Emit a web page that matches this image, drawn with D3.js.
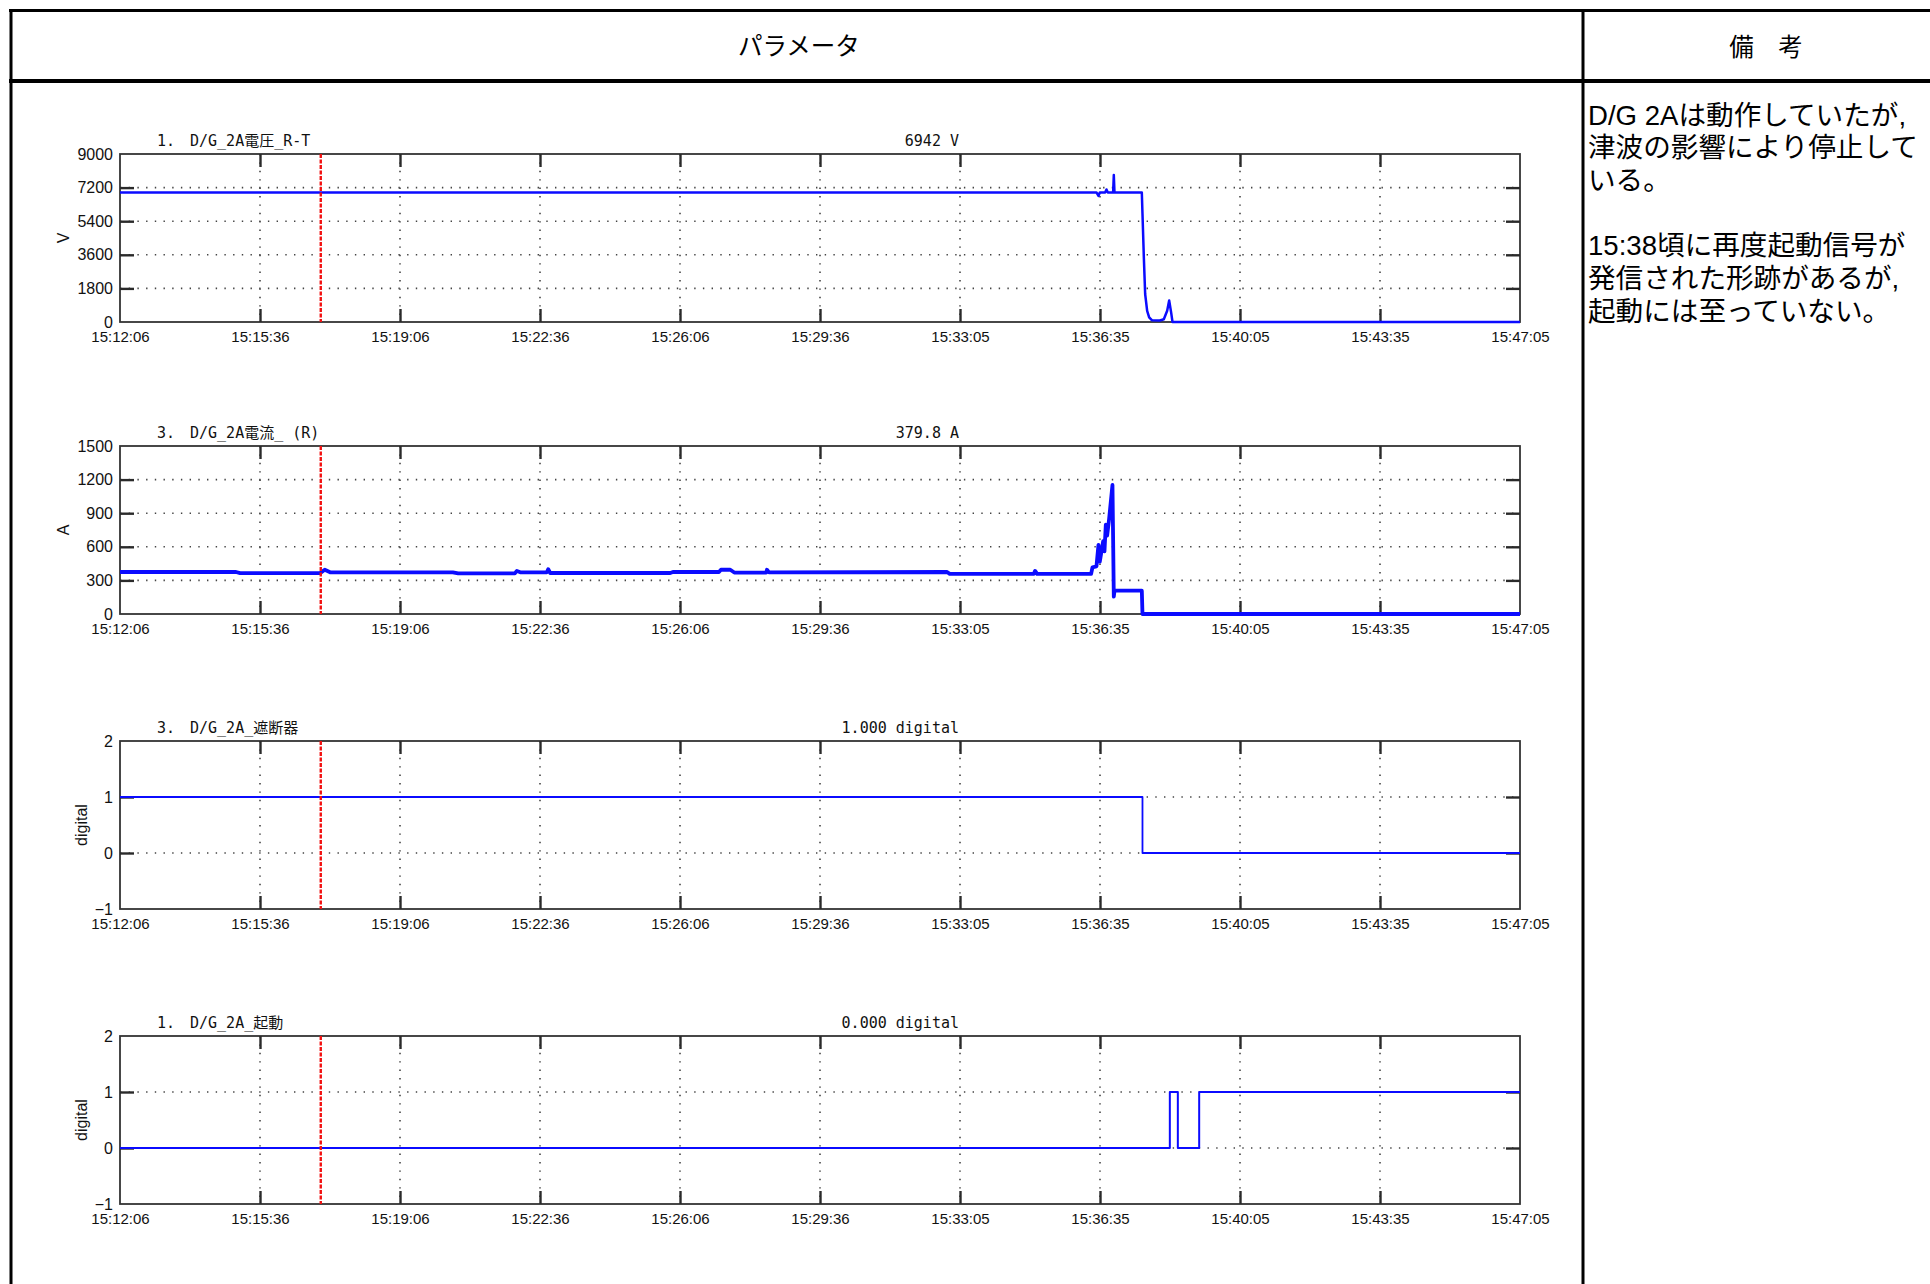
<!DOCTYPE html>
<html><head><meta charset="utf-8">
<script src="https://cdn.jsdelivr.net/npm/d3@7"></script>
<style>html,body{margin:0;padding:0;background:#fff;}svg{display:block;}</style>
</head><body>
<svg id="chart" width="1930" height="1284"></svg>
<script>
// ---------------- data ----------------
const timeStart = "15:12:06";
const timeEnd = "15:47:05";
const xTickLabels = ["15:12:06","15:15:36","15:19:06","15:22:36","15:26:06","15:29:36","15:33:05","15:36:35","15:40:05","15:43:35","15:47:05"];
const markerTime = "15:17:07";

const voltageTicks = [0, 1800, 3600, 5400, 7200, 9000];
const currentTicks = [0, 300, 600, 900, 1200, 1500];
const digitalTicks = [-1, 0, 1, 2];

const voltageTimes = ["15:12:06","15:36:30","15:36:33","15:36:35","15:36:43","15:36:45","15:36:47","15:36:55","15:36:56","15:36:57","15:37:38","15:37:39","15:37:41","15:37:43","15:37:46","15:37:49","15:37:53","15:38:05","15:38:11","15:38:16","15:38:19","15:38:22","15:38:24","15:47:05"];
const voltageValues = [6942,6942,6750,6942,6942,7100,6942,6942,7877,6942,6942,5800,3500,1500,600,250,100,80,150,600,1150,500,0,0];

const currentTimes = ["15:12:06","15:15:00","15:15:06","15:17:06","15:17:13","15:17:21","15:20:25","15:20:33","15:21:58","15:22:01","15:22:06","15:22:46","15:22:48","15:22:51","15:25:51","15:25:55","15:27:04","15:27:07","15:27:21","15:27:27","15:28:15","15:28:16","15:28:19","15:32:46","15:32:50","15:34:56","15:34:58","15:35:01","15:36:22","15:36:24","15:36:30","15:36:33","15:36:35","15:36:40","15:36:42","15:36:44","15:36:46","15:36:49","15:36:54","15:36:56","15:36:57","15:37:38","15:37:39","15:47:05"];
const currentValues = [375,375,365,365,395,372,372,362,362,385,372,372,400,366,366,375,375,395,395,370,370,395,372,375,358,358,385,358,358,417,425,616,467,650,560,797,700,850,1152,155,208,208,0,0];

const breakerTimes = ["15:12:06","15:37:39","15:47:05"];
const breakerValues = [1, 0, 0];

const startTimes = ["15:12:06","15:38:20","15:38:32","15:39:04","15:47:05"];
const startValues = [0, 1, 0, 1, 1];

const panelIndexes = ["1.", "3.", "3.", "1."];
const panelNames = ["D/G_2A電圧_R-T", "D/G_2A電流_ (R)", "D/G_2A_遮断器", "D/G_2A_起動"];
const panelReadouts = ["6942 V", "379.8 A", "1.000 digital", "0.000 digital"];
const panelUnits = ["V", "A", "digital", "digital"];

const headerLeft = "パラメータ";
const headerRight = "備\u3000考";
const remarkLines = ["D/G 2Aは動作していたが,", "津波の影響により停止して", "いる。", "", "15:38頃に再度起動信号が", "発信された形跡があるが,", "起動には至っていない。"];

// ---------------- layout ----------------
const parse = d3.timeParse("%H:%M:%S");
const svg = d3.select("#chart");
const plotLeft = 120, plotRight = 1520;
const panels = [
  {top: 154, bottom: 322, ticks: voltageTicks, times: voltageTimes, values: voltageValues, width: 2.5, step: false, ylabX: 63},
  {top: 446, bottom: 614, ticks: currentTicks, times: currentTimes, values: currentValues, width: 3.8, step: false, ylabX: 63},
  {top: 741, bottom: 909, ticks: digitalTicks, times: breakerTimes, values: breakerValues, width: 1.8, step: true, ylabX: 81},
  {top: 1036, bottom: 1204, ticks: digitalTicks, times: startTimes, values: startValues, width: 2, step: true, ylabX: 81}
];

const t0 = parse(timeStart), t1 = parse(timeEnd);
const x = d3.scaleTime().domain([t0, t1]).range([plotLeft, plotRight]);
const xTickVals = d3.range(xTickLabels.length).map(i => new Date(+t0 + i * (t1 - t0) / (xTickLabels.length - 1)));
const xFmt = (d, i) => xTickLabels[i];

const monoFont = "'DejaVu Sans Mono', 'Noto Sans CJK JP', monospace";
const sansFont = "'Liberation Sans', Arial, 'Noto Sans CJK JP', sans-serif";
const blue = "#0b0bff";
const tickCol = "#2a2a2a";

// ---------------- table frame ----------------
const frame = svg.append("g");
frame.append("line").attr("x1", 9).attr("x2", 1930).attr("y1", 10.5).attr("y2", 10.5).attr("stroke", "#000").attr("stroke-width", 3);
frame.append("line").attr("x1", 11).attr("x2", 11).attr("y1", 9).attr("y2", 1284).attr("stroke", "#000").attr("stroke-width", 3);
frame.append("line").attr("x1", 9).attr("x2", 1930).attr("y1", 81).attr("y2", 81).attr("stroke", "#000").attr("stroke-width", 4);
frame.append("line").attr("x1", 1583).attr("x2", 1583).attr("y1", 9).attr("y2", 1284).attr("stroke", "#000").attr("stroke-width", 3);

frame.append("text").attr("x", 799).attr("y", 46).attr("dy", "0.35em").attr("text-anchor", "middle")
  .attr("font-family", "'Noto Sans CJK JP', sans-serif").attr("font-size", 24.5).text(headerLeft);
frame.append("text").attr("x", 1766).attr("y", 47.5).attr("dy", "0.35em").attr("text-anchor", "middle")
  .attr("font-family", "'Noto Sans CJK JP', sans-serif").attr("font-size", 24.5).text(headerRight);

remarkLines.forEach((ln, i) => {
  frame.append("text").attr("x", 1588).attr("y", 124.5 + i * 32.7)
    .attr("font-family", "'Liberation Sans', 'Noto Sans CJK JP', sans-serif").attr("font-size", 27.6).text(ln);
});

// ---------------- panels ----------------
panels.forEach((p, k) => {
  const g = svg.append("g");
  const y = d3.scaleLinear().domain([d3.min(p.ticks), d3.max(p.ticks)]).range([p.bottom, p.top]);

  // grid
  const grid = g.append("g");
  grid.selectAll("line.gx").data(xTickVals.slice(1, -1)).join("line")
    .attr("x1", d => x(d)).attr("x2", d => x(d)).attr("y1", p.top).attr("y2", p.bottom)
    .attr("stroke", "#444").attr("stroke-width", 1.6).attr("stroke-dasharray", "1.4,7");
  grid.selectAll("line.gy").data(p.ticks.slice(1, -1)).join("line")
    .attr("x1", plotLeft).attr("x2", plotRight).attr("y1", d => y(d)).attr("y2", d => y(d))
    .attr("stroke", "#444").attr("stroke-width", 1.6).attr("stroke-dasharray", "1.4,7.3");

  // frame
  g.append("rect").attr("x", plotLeft).attr("y", p.top).attr("width", plotRight - plotLeft).attr("height", p.bottom - p.top)
    .attr("fill", "none").attr("stroke", "#333").attr("stroke-width", 1.8);

  // axes
  const axB = g.append("g").attr("transform", `translate(0,${p.bottom})`)
    .call(d3.axisBottom(x).tickValues(xTickVals).tickFormat(xFmt).tickSizeInner(-13).tickSizeOuter(0).tickPadding(9));
  const axT = g.append("g").attr("transform", `translate(0,${p.top})`)
    .call(d3.axisTop(x).tickValues(xTickVals).tickFormat("").tickSizeInner(-13).tickSizeOuter(0));
  const axL = g.append("g").attr("transform", `translate(${plotLeft},0)`)
    .call(d3.axisLeft(y).tickValues(p.ticks).tickFormat(d => d < 0 ? "\u2212" + Math.abs(d) : d).tickSizeInner(-14).tickSizeOuter(0).tickPadding(7));
  const axR = g.append("g").attr("transform", `translate(${plotRight},0)`)
    .call(d3.axisRight(y).tickValues(p.ticks).tickFormat("").tickSizeInner(-14).tickSizeOuter(0));
  [axB, axT, axL, axR].forEach(a => {
    a.select(".domain").remove();
    a.selectAll(".tick line").attr("stroke", tickCol).attr("stroke-width", 2.4);
    a.selectAll(".tick text").attr("fill", "#111").attr("font-family", sansFont).attr("font-size", 15);
  });
  axL.selectAll(".tick text").attr("font-size", 16);
  axB.selectAll(".tick").filter((d, i) => i === 0 || i === xTickVals.length - 1).select("line").remove();
  axT.selectAll(".tick").filter((d, i) => i === 0 || i === xTickVals.length - 1).select("line").remove();
  axL.selectAll(".tick").filter(d => d === d3.min(p.ticks) || d === d3.max(p.ticks)).select("line").remove();
  axR.selectAll(".tick").filter(d => d === d3.min(p.ticks) || d === d3.max(p.ticks)).select("line").remove();

  // data line
  const data = p.times.map((t, i) => ({t: parse(t), v: p.values[i]}));
  const line = d3.line().x(d => x(d.t)).y(d => y(d.v)).curve(p.step ? d3.curveStepAfter : d3.curveLinear);
  g.append("path").datum(data).attr("d", line).attr("fill", "none").attr("stroke", blue)
    .attr("stroke-width", p.width).attr("stroke-linejoin", "round");

  // red marker
  const mx = x(parse(markerTime));
  g.append("line").attr("x1", mx).attr("x2", mx).attr("y1", p.top).attr("y2", p.bottom)
    .attr("stroke", "#f21010").attr("stroke-width", 2.4).attr("stroke-dasharray", "4,1.5");

  // titles
  g.append("text").attr("x", 157).attr("y", p.top - 8).attr("font-family", monoFont).attr("font-size", 15)
    .attr("fill", "#111").text(panelIndexes[k]);
  g.append("text").attr("x", 190).attr("y", p.top - 8).attr("font-family", monoFont).attr("font-size", 15)
    .attr("fill", "#111").text(panelNames[k]);
  g.append("text").attr("x", 959).attr("y", p.top - 8).attr("text-anchor", "end").attr("font-family", monoFont).attr("font-size", 15)
    .attr("fill", "#111").text(panelReadouts[k]);

  // y label
  g.append("text").attr("transform", `translate(${p.ylabX},${(p.top + p.bottom) / 2}) rotate(-90)`)
    .attr("text-anchor", "middle").attr("dy", "0.35em").attr("font-family", sansFont).attr("font-size", 16)
    .attr("fill", "#111").text(panelUnits[k]);
});
</script>
</body></html>
